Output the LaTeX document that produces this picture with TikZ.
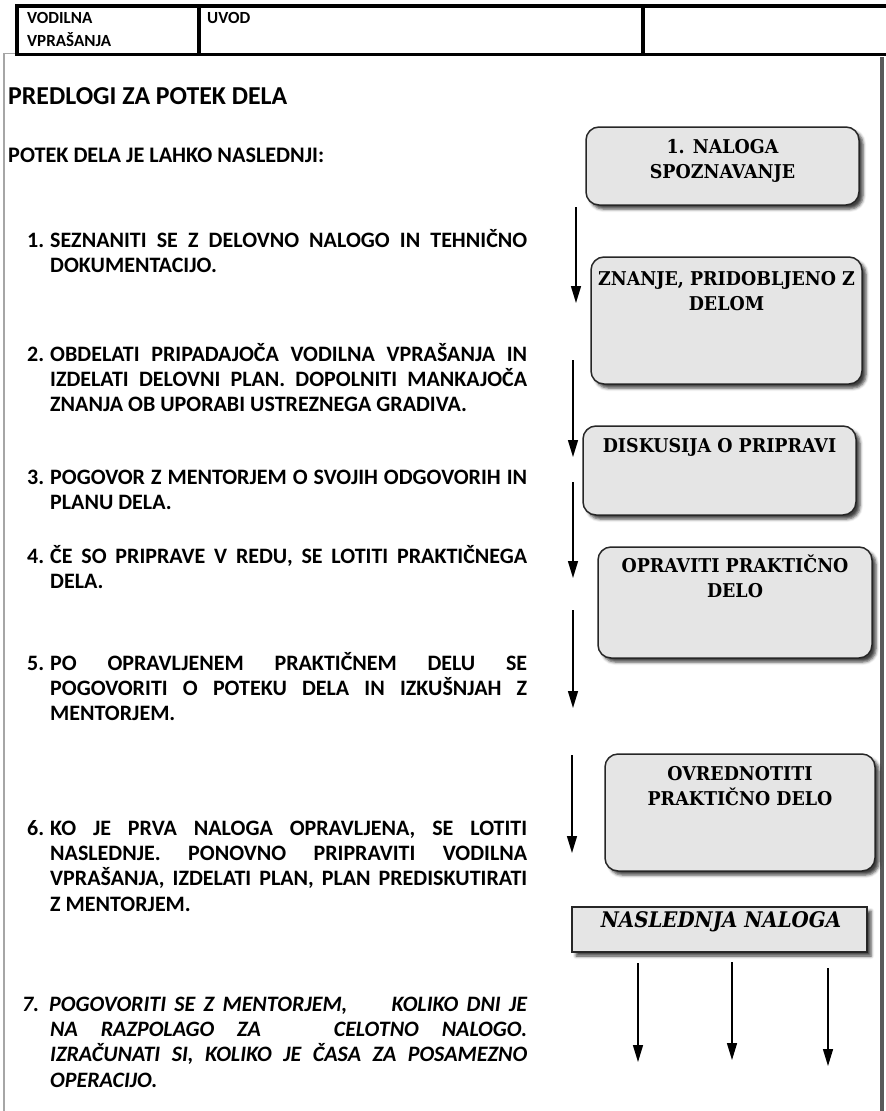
\documentclass[tikz,border=0pt]{standalone}
\usepackage{fontspec}
\setmainfont{Carlito}
\newfontfamily\boxserif[FakeStretch=0.92]{DejaVu Serif}
\usetikzlibrary{arrows.meta,shadows.blur}

\begin{document}
\begin{tikzpicture}[x=1pt,y=-1pt,
  hdrline/.style={line width=3.5pt, black},
  framel/.style={line width=1.5pt, gray!70},
  framer/.style={line width=4pt, black!65},
  hdrtext/.style={anchor=base west, inner sep=0pt, font=\fontsize{17}{23}\selectfont\bfseries},
  titletext/.style={anchor=base west, inner sep=0pt, font=\fontsize{25.8}{30}\selectfont\bfseries},
  subtext/.style={anchor=base west, inner sep=0pt, font=\fontsize{22.2}{25}\selectfont\bfseries},
  itemtext/.style={anchor=north west, inner sep=0pt, align=left, font=\fontsize{22}{25.3}\selectfont\bfseries},
  stepbox/.style={draw=black!85, line width=1.5pt, fill=black!10, rounded corners=13pt,
    inner sep=0pt, blur shadow={shadow xshift=4pt, shadow yshift=-4pt, shadow blur radius=3pt, shadow opacity=75}},
  nextbox/.style={draw=black!85, line width=1.5pt, fill=black!10,
    inner sep=0pt, blur shadow={shadow xshift=4pt, shadow yshift=-4pt, shadow blur radius=3pt, shadow opacity=75}},
  boxtext/.style={anchor=north, inner sep=0pt, align=center, font=\boxserif\bfseries\fontsize{19}{25}\selectfont},
  flowarrow/.style={line width=1.4pt, -{Triangle[length=17pt, width=10pt]}},
]
\useasboundingbox (0,0) rectangle (886,1111);

% outer frame of the page
\draw[framel] (17,53.5) -- (4,53.5) -- (4,1111);
\draw[framer] (882,57) -- (882,1111);

% header table
\draw[hdrline] (17,6) -- (890,6);
\draw[hdrline] (17,54.5) -- (890,54.5);
\draw[hdrline] (17,4.3) -- (17,56.2);
\draw[hdrline] (199,6) -- (199,54.5);
\draw[hdrline] (643,6) -- (643,54.5);
\node[hdrtext] (h1) at (27,23) {VODILNA};
\node[hdrtext] (h2) at (27,46) {VPRAŠANJA};
\node[hdrtext] (h3) at (207,23) {UVOD};

% headings
\node[titletext] (title) at (8,104) {PREDLOGI ZA POTEK DELA};
\node[subtext] (sub) at (8,162) {POTEK DELA JE LAHKO NASLEDNJI:};

% numbered steps
\node[itemtext] (i1) at (27,227) {\rule{0pt}{20pt}\makebox[23pt][l]{1.}\makebox[477pt][s]{SEZNANITI SE Z DELOVNO NALOGO IN TEHNIČNO}\\
  \hspace*{23pt}DOKUMENTACIJO.};
\node[itemtext] (i2) at (27,341) {\rule{0pt}{20pt}\makebox[23pt][l]{2.}\makebox[477pt][s]{OBDELATI PRIPADAJOČA VODILNA VPRAŠANJA IN}\\
  \hspace*{23pt}\makebox[477pt][s]{IZDELATI DELOVNI PLAN. DOPOLNITI MANKAJOČA}\\
  \hspace*{23pt}ZNANJA OB UPORABI USTREZNEGA GRADIVA.};
\node[itemtext] (i3) at (27,464) {\rule{0pt}{20pt}\makebox[23pt][l]{3.}\makebox[477pt][s]{POGOVOR Z MENTORJEM O SVOJIH ODGOVORIH IN}\\
  \hspace*{23pt}PLANU DELA.};
\node[itemtext] (i4) at (27,543) {\rule{0pt}{20pt}\makebox[23pt][l]{4.}\makebox[477pt][s]{ČE SO PRIPRAVE V REDU, SE LOTITI PRAKTIČNEGA}\\
  \hspace*{23pt}DELA.};
\node[itemtext] (i5) at (27,650) {\rule{0pt}{20pt}\makebox[23pt][l]{5.}\makebox[477pt][s]{PO OPRAVLJENEM PRAKTIČNEM DELU SE}\\
  \hspace*{23pt}\makebox[477pt][s]{POGOVORITI O POTEKU DELA IN IZKUŠNJAH Z}\\
  \hspace*{23pt}MENTORJEM.};
\node[itemtext] (i6) at (27,815) {\rule{0pt}{20pt}\makebox[23pt][l]{6.}\makebox[477pt][s]{KO JE PRVA NALOGA OPRAVLJENA, SE LOTITI}\\
  \hspace*{23pt}\makebox[477pt][s]{NASLEDNJE. PONOVNO PRIPRAVITI VODILNA}\\
  \hspace*{23pt}\makebox[477pt][s]{VPRAŠANJA, IZDELATI PLAN, PLAN PREDISKUTIRATI}\\
  \hspace*{23pt}Z MENTORJEM.};
\node[itemtext, font=\fontsize{22}{25.3}\selectfont\bfseries\itshape] (i7) at (22,991)
  {\rule{0pt}{20pt}\makebox[27pt][l]{7.}\makebox[478pt][s]{POGOVORITI SE Z MENTORJEM,\hspace{36pt} KOLIKO DNI JE}\\
  \hspace*{28pt}\makebox[477pt][s]{NA RAZPOLAGO ZA\hspace{50pt} CELOTNO NALOGO.}\\
  \hspace*{28pt}\makebox[477pt][s]{IZRAČUNATI SI, KOLIKO JE ČASA ZA POSAMEZNO}\\
  \hspace*{28pt}OPERACIJO.};

% flow boxes
\node[stepbox, minimum width=273pt, minimum height=78pt] (b1) at (722.5,166) {};
\node[stepbox, minimum width=271pt, minimum height=127pt] (b2) at (726.5,320.5) {};
\node[stepbox, minimum width=273pt, minimum height=89pt] (b3) at (719.5,470.5) {};
\node[stepbox, minimum width=274pt, minimum height=111pt] (b4) at (735,602.5) {};
\node[stepbox, minimum width=270pt, minimum height=117pt] (b5) at (740,812.5) {};
\node[nextbox, minimum width=295pt, minimum height=45pt] (b6) at (719.5,929.5) {};

\node[boxtext, yshift=-8.5pt] (t1) at (b1.north) {\rule{0pt}{19pt}1. NALOGA\\SPOZNAVANJE};
\node[boxtext, yshift=-10.5pt] (t2) at (b2.north) {\rule{0pt}{19pt}ZNANJE, PRIDOBLJENO Z\\DELOM};
\node[boxtext, yshift=-8.5pt] (t3) at (b3.north) {\rule{0pt}{19pt}DISKUSIJA O PRIPRAVI};
\node[boxtext, yshift=-7pt] (t4) at (b4.north) {\rule{0pt}{19pt}OPRAVITI PRAKTIČNO\\DELO};
\node[boxtext, yshift=-8.5pt] (t5) at (b5.north) {\rule{0pt}{19pt}OVREDNOTITI\\PRAKTIČNO DELO};
\node[boxtext, anchor=center, font=\boxserif\bfseries\itshape\fontsize{21.5}{25}\selectfont] (t6) at (721,922) {NASLEDNJA NALOGA};

% arrows between the steps
\coordinate (a1s) at (576,207);  \coordinate (a1e) at (576,303);
\coordinate (a2s) at (573,360);  \coordinate (a2e) at (573,457);
\coordinate (a3s) at (573,482);  \coordinate (a3e) at (573,578);
\coordinate (a4s) at (573,610);  \coordinate (a4e) at (573,708);
\coordinate (a5s) at (572,755);  \coordinate (a5e) at (572,853);
\coordinate (a6s) at (638,963);  \coordinate (a6e) at (638,1062);
\coordinate (a7s) at (732,962);  \coordinate (a7e) at (732,1060);
\coordinate (a8s) at (828,968);  \coordinate (a8e) at (828,1066);
\foreach \k in {1,...,8} {\draw[flowarrow] (a\k s) -- (a\k e);}
\end{tikzpicture}
\end{document}
